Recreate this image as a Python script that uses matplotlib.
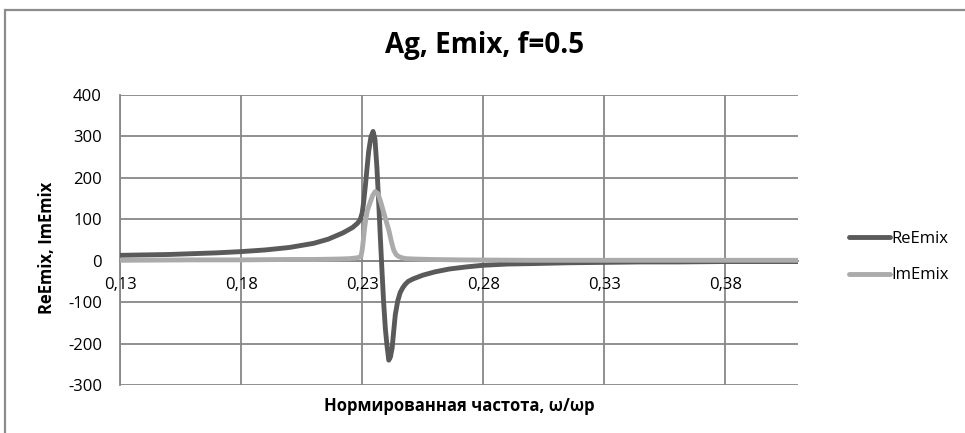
import matplotlib.pyplot as plt
from matplotlib.patches import Rectangle

plt.rcParams['font.family'] = ['Open Sans', 'DejaVu Sans']
plt.rcParams['axes.unicode_minus'] = False

# ReEmix vs normalised frequency
re_freq = [0.13, 0.15, 0.17, 0.18, 0.19, 0.20, 0.21, 0.216, 0.222, 0.226, 0.228,
           0.2292, 0.2300, 0.2306, 0.2313, 0.2320, 0.2327, 0.2336, 0.2345, 0.2353,
           0.2361, 0.2368, 0.2375, 0.2382, 0.2389, 0.2396, 0.2403, 0.2410, 0.2417,
           0.2424, 0.2430, 0.2437, 0.2447, 0.2457, 0.2468, 0.2478, 0.249, 0.251,
           0.255, 0.260, 0.266, 0.273, 0.280, 0.290, 0.300, 0.315, 0.330, 0.345,
           0.360, 0.380, 0.410]
re_emix = [13, 15, 19, 22, 26, 32, 42, 52, 67, 80, 90,
           99, 115, 140, 179, 222, 264, 298, 312, 293,
           225, 145, 58, -25, -103, -165, -207, -240, -232,
           -210, -172, -130, -97, -77, -65, -57, -50, -44,
           -35, -27, -20, -15, -11, -8, -7, -5, -4, -3,
           -3, -2, -2]

# ImEmix vs normalised frequency
im_freq = [0.13, 0.16, 0.18, 0.20, 0.21, 0.22, 0.225, 0.228, 0.2295, 0.2300,
           0.2305, 0.2310, 0.2315, 0.2322, 0.2332, 0.2343, 0.2354, 0.2365, 0.2375,
           0.2382, 0.2392, 0.2401, 0.2410, 0.2420, 0.2430, 0.2440, 0.2451, 0.2465,
           0.248, 0.252, 0.258, 0.27, 0.30, 0.35, 0.41]
im_emix = [1, 2, 2, 3, 3, 4, 5, 7, 10, 25,
           50, 78, 100, 122, 139, 157, 167, 162, 145,
           131, 110, 92, 74, 48, 26, 15, 10, 7,
           5, 4, 3, 2, 1, 1, 1]

x_ticks = [0.13, 0.18, 0.23, 0.28, 0.33, 0.38]
x_tick_labels = ['0,13', '0,18', '0,23', '0,28', '0,33', '0,38']
y_ticks = [-300, -200, -100, 0, 100, 200, 300, 400]

grid_col = '#878787'

fig = plt.figure(figsize=(9.65, 4.33), dpi=100)
ax = fig.add_axes([120 / 965, 1 - 385 / 433, 678 / 965, 290 / 433])

ax.plot(re_freq, re_emix, color='#5a5a5a', lw=3.5, label='ReEmix',
        solid_capstyle='round', solid_joinstyle='round', zorder=3)
ax.plot(im_freq, im_emix, color='#ababab', lw=3.5, label='ImEmix',
        solid_capstyle='round', solid_joinstyle='round', zorder=4)

ax.set_xlim(0.13, 0.41)
ax.set_ylim(-300, 400)
ax.set_xticks(x_ticks)
ax.set_xticklabels(x_tick_labels)
ax.set_yticks(y_ticks)
ax.grid(True, color=grid_col, lw=1.3)
ax.set_axisbelow(True)

for side in ['top', 'right']:
    ax.spines[side].set_visible(False)
ax.spines['left'].set_color(grid_col)
ax.spines['left'].set_linewidth(1.3)
# category axis crosses at zero, labels hang below it
ax.spines['bottom'].set_position(('data', 0))
ax.spines['bottom'].set_color(grid_col)
ax.spines['bottom'].set_linewidth(1.3)
ax.tick_params(axis='x', length=0, pad=12, labelsize=12, colors='black')
ax.tick_params(axis='y', length=0, pad=13, labelsize=12, colors='black')

fig.legend(loc='center left', bbox_to_anchor=(834 / 965, 1 - 257 / 433),
           frameon=False, fontsize=12, handlelength=2.45, handletextpad=0.1,
           labelspacing=1.25)

fig.text(485 / 965, 1 - 45 / 433, 'Ag, Emix, f=0.5', ha='center', va='center',
         fontsize=20, fontweight='bold')
fig.text(459 / 965, 1 - 406 / 433, 'Нормированная частота, ω/ωр', ha='center',
         va='center', fontsize=12, fontweight='bold')
fig.text(47 / 965, 1 - 248 / 433, 'ReEmix, ImEmix', ha='center', va='center',
         rotation=90, fontsize=12, fontweight='bold')

# chart area frame
fig.patches.append(Rectangle((5 / 965, -0.2), 1.2, 1.2 - 10 / 433,
                             transform=fig.transFigure, fill=False,
                             ec='#8c8c8c', lw=1.6))

fig.savefig('out.png', dpi=100)
